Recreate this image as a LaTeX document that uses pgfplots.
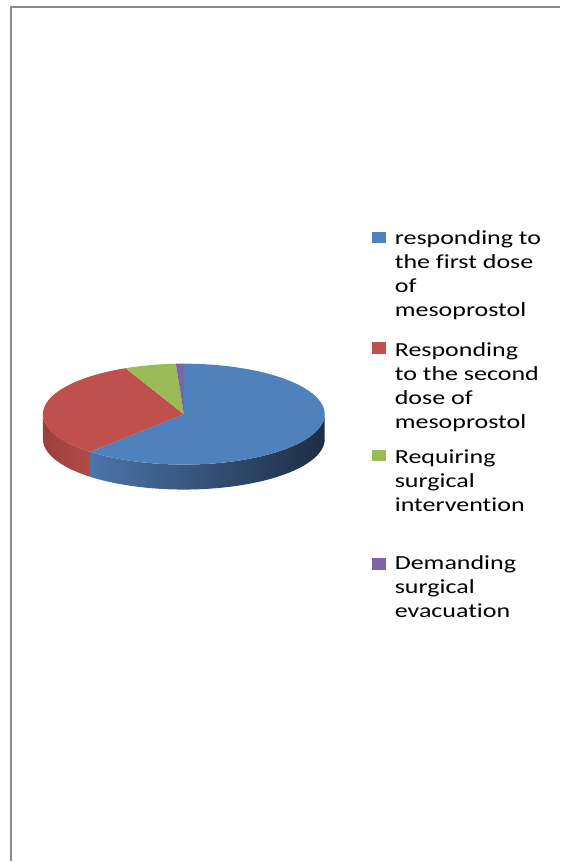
\documentclass[border=0pt]{standalone}
\usepackage{fontspec}
\setmainfont{Carlito}[FakeStretch=1.3, Ligatures={NoCommon}]
\usepackage{pgfplots}
\pgfplotsset{compat=1.18}
\usepackage{pgfplotstable}

\definecolor{sBlue}{HTML}{4F81BD}
\definecolor{sRed}{HTML}{C0504D}
\definecolor{sGreen}{HTML}{9BBB59}
\definecolor{sPurple}{HTML}{8064A2}
\definecolor{sideBlueL}{HTML}{4C74A9}
\definecolor{sideBlueR}{HTML}{1D2D44}
\definecolor{sideRedL}{HTML}{9C403D}
\definecolor{sideRedR}{HTML}{B44A46}
\definecolor{frameGray}{HTML}{8A8A8A}

% share of patients (percent), in pie order
\pgfplotstableread{
share
61.6
31.6
5.9
0.9
}\piedata

\begin{document}
\begin{tikzpicture}
\pgfplotstablegetelem{0}{share}\of\piedata \edef\vA{\pgfplotsretval}
\pgfplotstablegetelem{1}{share}\of\piedata \edef\vB{\pgfplotsretval}
\pgfplotstablegetelem{2}{share}\of\piedata \edef\vC{\pgfplotsretval}
\pgfplotstablegetelem{3}{share}\of\piedata \edef\vD{\pgfplotsretval}
\pgfmathsetmacro{\aA}{90}
\pgfmathsetmacro{\aB}{\aA-3.6*\vA}
\pgfmathsetmacro{\aC}{\aB-3.6*\vB}
\pgfmathsetmacro{\aD}{\aC-3.6*\vC}
\pgfmathsetmacro{\aE}{\aD-3.6*\vD}
% visible side walls (front half: -180..0)
\pgfmathsetmacro{\bsA}{max(\aB,-180)}
\pgfmathsetmacro{\bsB}{min(\aA,0)}
\pgfmathsetmacro{\rsA}{max(\aC,-180)}
\pgfmathsetmacro{\rsB}{min(\aB,0)+1.5}
\def\cx{184}\def\cy{414.5}\def\rx{141}\def\ry{50.5}\def\dep{25}
\begin{axis}[
  width=561pt, height=862pt, scale only axis,
  xmin=0, xmax=561, ymin=0, ymax=862, y dir=reverse,
  hide axis, clip=false]
\path (axis cs:0,0) rectangle (axis cs:561,862);
% frame
\draw[frameGray, line width=1.6pt] (axis cs:11,862) -- (axis cs:11,7) -- (axis cs:561,7);
% side walls
\addplot[draw=none, left color=sideRedL, right color=sideRedR, domain=0:2, samples=101, variable=\t]
  ({\cx+\rx*cos(\rsA+(\rsB-\rsA)*(1-abs(1-\t)))},
   {\cy-\ry*sin(\rsA+(\rsB-\rsA)*(1-abs(1-\t)))+\dep*(\t>1.001)}) -- cycle;
\addplot[draw=none, left color=sideBlueL, right color=sideBlueR, domain=0:2, samples=201, variable=\t]
  ({\cx+\rx*cos(\bsA+(\bsB-\bsA)*(1-abs(1-\t)))},
   {\cy-\ry*sin(\bsA+(\bsB-\bsA)*(1-abs(1-\t)))+\dep*(\t>1.001)}) -- cycle;
% top faces
\addplot[fill=sBlue, draw=none, domain=\aB:\aA, samples=90]
  ({\cx+\rx*cos(x)},{\cy-\ry*sin(x)}) -- (axis cs:\cx,\cy) -- cycle;
\addplot[fill=sRed, draw=none, domain=\aC:\aB, samples=50]
  ({\cx+\rx*cos(x)},{\cy-\ry*sin(x)}) -- (axis cs:\cx,\cy) -- cycle;
\addplot[fill=sGreen, draw=none, domain=\aD:\aC, samples=12]
  ({\cx+\rx*cos(x)},{\cy-\ry*sin(x)}) -- (axis cs:\cx,\cy) -- cycle;
\addplot[fill=sPurple, draw=none, domain=\aE:\aD, samples=4]
  ({\cx+\rx*cos(x)},{\cy-\ry*sin(x)}) -- (axis cs:\cx,\cy) -- cycle;
% legend keys
\addplot[color=sBlue, only marks, mark=square*, mark size=5.3pt, mark options={xscale=1.3}] coordinates {(379,237.5)};
\addplot[color=sRed, only marks, mark=square*, mark size=5.3pt, mark options={xscale=1.3}] coordinates {(379,348)};
\addplot[color=sGreen, only marks, mark=square*, mark size=5.3pt, mark options={xscale=1.3}] coordinates {(379,455.7)};
\addplot[color=sPurple, only marks, mark=square*, mark size=5.3pt, mark options={xscale=1.3}] coordinates {(379,564.5)};
% legend texts
\tikzset{legtext/.style={anchor=base west, inner sep=0pt, font=\fontsize{20}{24}\selectfont}}
\node[legtext] at (axis cs:395,244.5) {\begin{tabular}[t]{@{}l@{}}responding to\\the first dose\\of\\mesoprostol\end{tabular}};
\node[legtext] at (axis cs:395,357) {\begin{tabular}[t]{@{}l@{}}Responding\\to the second\\dose of\\mesoprostol\end{tabular}};
\node[legtext] at (axis cs:395,463.5) {\begin{tabular}[t]{@{}l@{}}Requiring\\surgical\\intervention\end{tabular}};
\node[legtext] at (axis cs:395,570.5) {\begin{tabular}[t]{@{}l@{}}Demanding\\surgical\\evacuation\end{tabular}};
\end{axis}
\end{tikzpicture}
\end{document}
